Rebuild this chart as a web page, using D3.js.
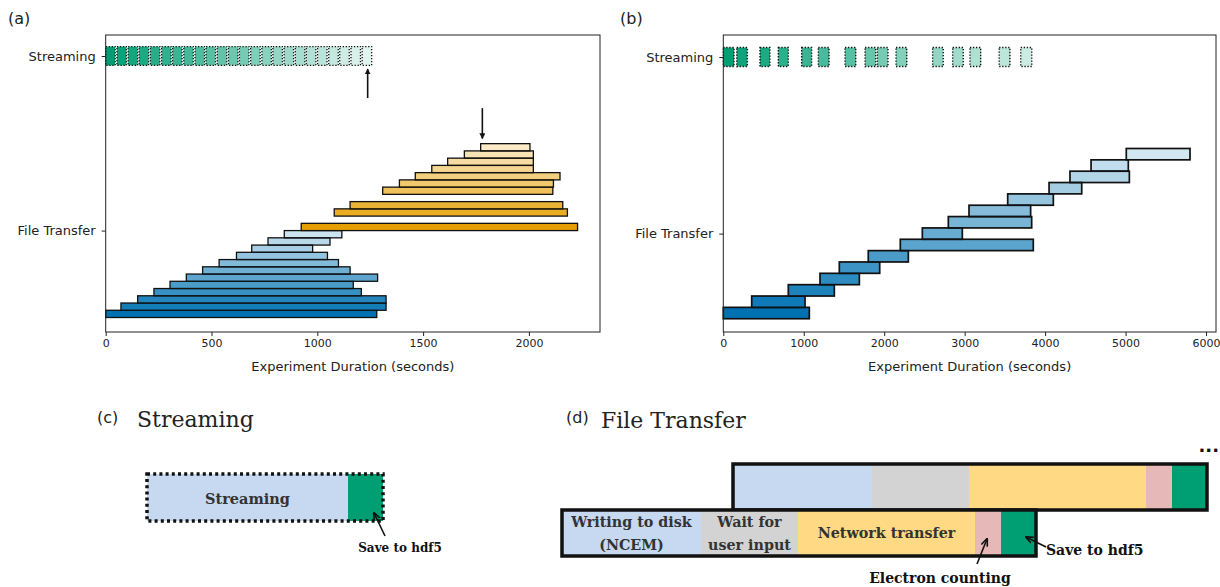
<!DOCTYPE html>
<html><head><meta charset="utf-8">
<script src="https://cdn.jsdelivr.net/npm/d3@7"></script>
<style>body{margin:0;background:#fff}svg{display:block}</style>
</head><body><svg id="c" width="1220" height="587"></svg>
<script>
// ---------- DATA ----------
// Panel (a)
const aStreamStart = [0, 53, 106, 158, 211, 264, 316, 369, 422, 474, 527, 580, 632, 685, 738, 790, 843, 896, 948, 1001, 1054, 1106, 1159, 1212];
const aStreamEnd   = [45, 98, 151, 203, 256, 309, 361, 414, 467, 519, 572, 625, 677, 730, 783, 835, 888, 941, 993, 1046, 1099, 1151, 1204, 1257];
const aBlueSlot  = [0, 1, 2, 3, 4, 5, 6, 7, 8, 9, 10, 11];
const aBlueStart = [0, 72, 151, 228, 304, 381, 458, 536, 618, 690, 767, 844];
const aBlueEnd   = [1281, 1325, 1325, 1208, 1170, 1285, 1155, 1100, 1048, 978, 1060, 1116];
const aOrangeSlot  = [12, 14, 15, 17, 18, 19, 20, 21, 22, 23];
const aOrangeStart = [924, 1080, 1155, 1309, 1388, 1463, 1541, 1616, 1695, 1772];
const aOrangeEnd   = [2230, 2182, 2160, 2113, 2116, 2147, 2021, 2021, 2021, 2005];
const aTicks = [0, 500, 1000, 1500, 2000];
// Panel (b)
const bStreamStart = [0, 167, 456, 684, 974, 1181, 1513, 1762, 1915, 2147, 2602, 2851, 3066, 3429, 3697];
const bStreamEnd   = [133, 299, 580, 808, 1098, 1314, 1646, 1894, 2047, 2280, 2734, 2983, 3199, 3562, 3834];
const bBlueStart = [0, 353, 808, 1202, 1442, 1802, 2200, 2474, 2797, 3054, 3535, 4049, 4309, 4571, 5009];
const bBlueEnd   = [1069, 1016, 1380, 1691, 1944, 2300, 3853, 2971, 3833, 3820, 4102, 4455, 5047, 5034, 5801];
const bTicks = [0, 1000, 2000, 3000, 4000, 5000, 6000];
const yLabels = ["Streaming", "File Transfer"];
// Panel (c)
const cSegNames = ["Streaming", "Save to hdf5"];
const cSegDur = [201, 35];
// Panel (d)
const dSegNames = [["Writing to disk", "(NCEM)"], ["Wait for", "user input"], ["Network transfer"], ["Electron counting"], ["Save to hdf5"]];
const dSegDur = [139, 97, 177, 26, 35];
const dBarOffset = [171, 0];

// ---------- STYLE ----------
const C_BLUE = "#0072B2", C_ORANGE = "#E69F00", C_GREEN = "#009E73";
const dColors = ["#c6d9f0", "#d3d3d3", "#ffd983", "#e6b8b7", "#009E73"];
const SANS = "DejaVu Sans, sans-serif";
const SERIF = "DejaVu Serif, serif";

const svg = d3.select("#c");
svg.append("rect").attr("width", 1220).attr("height", 587).attr("fill", "#fff");

const defs = svg.append("defs");
defs.append("marker").attr("id", "ah").attr("viewBox", "0 0 10 10")
  .attr("refX", 9).attr("refY", 5).attr("markerWidth", 6).attr("markerHeight", 6)
  .attr("markerUnits", "userSpaceOnUse").attr("orient", "auto")
  .append("path").attr("d", "M0,0 L10,5 L0,10 z").attr("fill", "#111");
defs.append("marker").attr("id", "ah2").attr("viewBox", "0 0 10 10")
  .attr("refX", 9).attr("refY", 5).attr("markerWidth", 8).attr("markerHeight", 8)
  .attr("markerUnits", "userSpaceOnUse").attr("orient", "auto")
  .append("path").attr("d", "M0,1 L10,5 L0,9").attr("fill", "none").attr("stroke", "#111").attr("stroke-width", 2);

function alphaSeq(k, n, minA) { return n <= 1 ? 1 : 1 - k * (1 - minA) / (n - 1); }

function panel(cfg) {
  const x = d3.scaleLinear().domain(cfg.xDomain).range(cfg.xRange);
  const y = d3.scaleLinear().domain(cfg.yDomain).range(cfg.yRange);
  const g = svg.append("g");
  const marks = g.append("g");
  g.append("rect").attr("x", cfg.xRange[0]).attr("y", cfg.yRange[1])
    .attr("width", cfg.xRange[1] - cfg.xRange[0]).attr("height", cfg.yRange[0] - cfg.yRange[1])
    .attr("fill", "none").attr("stroke", "#222").attr("stroke-width", 1);
  const xa = g.append("g").attr("transform", `translate(0,${cfg.yRange[0]})`)
    .call(d3.axisBottom(x).tickValues(cfg.ticks).tickFormat(d3.format("d")).tickSize(4).tickPadding(3));
  xa.select(".domain").remove();
  xa.selectAll("text").attr("font-family", SANS).attr("font-size", 11).attr("fill", "#222");
  xa.selectAll("line").attr("stroke", "#222");
  const ya = g.append("g").attr("transform", `translate(${cfg.xRange[0]},0)`)
    .call(d3.axisLeft(y).tickValues(cfg.yTickVals).tickFormat((d, i) => yLabels[i]).tickSize(4).tickPadding(6));
  ya.select(".domain").remove();
  ya.selectAll("text").attr("font-family", SANS).attr("font-size", 13).attr("fill", "#222");
  ya.selectAll("line").attr("stroke", "#222");
  g.append("text").attr("x", (cfg.xRange[0] + cfg.xRange[1]) / 2).attr("y", cfg.yRange[0] + 39)
    .attr("text-anchor", "middle").attr("font-family", SANS).attr("font-size", 13).attr("fill", "#222")
    .text("Experiment Duration (seconds)");
  return { x, y, marks, g };
}

function streamBlocks(P, starts, ends, yc, h, minA, sw) {
  P.marks.selectAll(null).data(starts).join("rect")
    .attr("x", (d) => P.x(d)).attr("width", (d, i) => P.x(ends[i]) - P.x(d))
    .attr("y", P.y(yc + h / 2)).attr("height", P.y(yc - h / 2) - P.y(yc + h / 2))
    .attr("fill", C_GREEN).attr("fill-opacity", (d, i) => alphaSeq(i, starts.length, minA))
    .attr("stroke", "#111").attr("stroke-width", sw).attr("stroke-dasharray", "1.3,1.7");
}

function ftBars(P, slots, starts, ends, color, alphaFn, sw) {
  P.marks.selectAll(null).data(starts).join("rect")
    .attr("x", (d) => P.x(d)).attr("width", (d, i) => P.x(ends[i]) - P.x(d))
    .attr("y", (d, i) => P.y(slots[i] + 0.5)).attr("height", (d, i) => P.y(slots[i] - 0.5) - P.y(slots[i] + 0.5))
    .attr("fill", color).attr("fill-opacity", (d, i) => alphaFn(i))
    .attr("stroke", "#111").attr("stroke-width", sw);
}

// ---------- Panel (a) ----------
const aStreamY = 35.6, aFtY = 11.5;
const A = panel({ xDomain: [0, 2336], xRange: [105.7, 600], yDomain: [-2.5, 38.5], yRange: [332, 35],
  ticks: aTicks, yTickVals: [aStreamY, aFtY] });
ftBars(A, aBlueSlot, aBlueStart, aBlueEnd, C_BLUE, (i) => alphaSeq(aBlueSlot[i], 12, 0.2), 1.3);
ftBars(A, aOrangeSlot, aOrangeStart, aOrangeEnd, C_ORANGE, (i) => alphaSeq(aOrangeSlot[i] - 12, 12, 0.22), 1.3);
streamBlocks(A, aStreamStart, aStreamEnd, aStreamY, 2.6, 0.12, 1.3);
A.g.append("line").attr("x1", A.x(1238)).attr("x2", A.x(1238)).attr("y1", A.y(29.8)).attr("y2", A.y(33.8))
  .attr("stroke", "#111").attr("stroke-width", 1.6).attr("marker-end", "url(#ah)");
A.g.append("line").attr("x1", A.x(1780)).attr("x2", A.x(1780)).attr("y1", A.y(28.4)).attr("y2", A.y(24.2))
  .attr("stroke", "#111").attr("stroke-width", 1.6).attr("marker-end", "url(#ah)");

// ---------- Panel (b) ----------
const bStreamY = 22.56, bFtY = 7;
const bSlots = bBlueStart.map((d, i) => i);
const B = panel({ xDomain: [0, 6124], xRange: [723.3, 1216], yDomain: [-1.67, 24.5], yRange: [332, 35],
  ticks: bTicks, yTickVals: [bStreamY, bFtY] });
ftBars(B, bSlots, bBlueStart, bBlueEnd, C_BLUE, (i) => alphaSeq(i, bSlots.length, 0.18), 1.7);
streamBlocks(B, bStreamStart, bStreamEnd, bStreamY, 1.67, 0.2, 1.4);

svg.append("text").attr("x", 8).attr("y", 24).attr("font-family", SANS).attr("font-size", 16).attr("fill", "#222").text("(a)");
svg.append("text").attr("x", 620).attr("y", 24).attr("font-family", SANS).attr("font-size", 16).attr("fill", "#222").text("(b)");

// ---------- Panel (c) ----------
svg.append("text").attr("x", 97).attr("y", 423).attr("font-family", SANS).attr("font-size", 16).attr("fill", "#222").text("(c)");
svg.append("text").attr("x", 137).attr("y", 427).attr("font-family", SERIF).attr("font-size", 22).attr("fill", "#222").text("Streaming");
const cx = d3.scaleLinear().domain([0, d3.sum(cSegDur)]).range([147, 383]);
const cCum = d3.cumsum([0, ...cSegDur]);
const cTop = 474, cBot = 521;
svg.append("g").selectAll("rect").data(cSegDur).join("rect")
  .attr("x", (d, i) => cx(cCum[i])).attr("width", (d, i) => cx(cCum[i + 1]) - cx(cCum[i]))
  .attr("y", cTop).attr("height", cBot - cTop)
  .attr("fill", (d, i) => i === 0 ? dColors[0] : C_GREEN);
svg.append("rect").attr("x", cx(0)).attr("y", cTop).attr("width", cx(cCum[2]) - cx(0)).attr("height", cBot - cTop)
  .attr("fill", "none").attr("stroke", "#111").attr("stroke-width", 3.5).attr("stroke-dasharray", "3,3.2");
svg.append("text").attr("x", (cx(cCum[0]) + cx(cCum[1])) / 2).attr("y", 498).attr("dominant-baseline", "central")
  .attr("text-anchor", "middle").attr("font-family", SERIF).attr("font-weight", "bold").attr("font-size", 14.5)
  .attr("fill", "#333").text(cSegNames[0]);
svg.append("text").attr("x", 400).attr("y", 552).attr("text-anchor", "middle").attr("font-family", SERIF)
  .attr("font-weight", "bold").attr("font-size", 12).attr("fill", "#111").text(cSegNames[1]);
svg.append("line").attr("x1", 385).attr("y1", 536).attr("x2", 374).attr("y2", 513)
  .attr("stroke", "#111").attr("stroke-width", 1.6).attr("marker-end", "url(#ah2)");

// ---------- Panel (d) ----------
svg.append("text").attr("x", 566).attr("y", 423).attr("font-family", SANS).attr("font-size", 16).attr("fill", "#222").text("(d)");
svg.append("text").attr("x", 601).attr("y", 428).attr("font-family", SERIF).attr("font-size", 22).attr("fill", "#222").text("File Transfer");
const dx = d3.scaleLinear().domain([0, 645]).range([562, 1207]);
const dCum = d3.cumsum([0, ...dSegDur]);
const dTotal = d3.sum(dSegDur);
const dBarTop = [464, 510], dBarH = 46;
dBarOffset.forEach((off, b) => {
  const g = svg.append("g");
  g.selectAll("rect").data(dSegDur).join("rect")
    .attr("x", (d, i) => dx(off + dCum[i])).attr("width", (d, i) => dx(off + dCum[i + 1]) - dx(off + dCum[i]))
    .attr("y", dBarTop[b]).attr("height", dBarH).attr("fill", (d, i) => dColors[i]);
  g.append("rect").attr("x", dx(off)).attr("width", dx(off + dTotal) - dx(off))
    .attr("y", dBarTop[b]).attr("height", dBarH).attr("fill", "none").attr("stroke", "#111").attr("stroke-width", 3.5);
});
const dLab = svg.append("g").attr("font-family", SERIF).attr("font-weight", "bold").attr("font-size", 14.3)
  .attr("fill", "#333").attr("text-anchor", "middle");
[0, 1, 2].forEach((i) => {
  const cxm = (dx(dCum[i]) + dx(dCum[i + 1])) / 2;
  const lines = dSegNames[i];
  lines.forEach((t, j) => {
    const yy = lines.length === 1 ? 533 : (j === 0 ? 522 : 545);
    dLab.append("text").attr("x", cxm).attr("y", yy).attr("dominant-baseline", "central").text(t);
  });
});
svg.append("text").attr("x", 940).attr("y", 578).attr("dominant-baseline", "central").attr("text-anchor", "middle")
  .attr("font-family", SERIF).attr("font-weight", "bold").attr("font-size", 14).attr("fill", "#111").text(dSegNames[3][0]);
svg.append("line").attr("x1", 977).attr("y1", 564).attr("x2", 987).attr("y2", 539)
  .attr("stroke", "#111").attr("stroke-width", 1.6).attr("marker-end", "url(#ah2)");
svg.append("text").attr("x", 1046).attr("y", 550).attr("dominant-baseline", "central").attr("text-anchor", "start")
  .attr("font-family", SERIF).attr("font-weight", "bold").attr("font-size", 14).attr("fill", "#111").text(dSegNames[4][0]);
svg.append("line").attr("x1", 1046).attr("y1", 547).attr("x2", 1026).attr("y2", 537)
  .attr("stroke", "#111").attr("stroke-width", 1.6).attr("marker-end", "url(#ah2)");
svg.append("text").attr("x", 1219).attr("y", 452).attr("text-anchor", "end").attr("font-family", SANS)
  .attr("font-weight", "bold").attr("font-size", 18).attr("fill", "#111").text("...");
</script></body></html>
